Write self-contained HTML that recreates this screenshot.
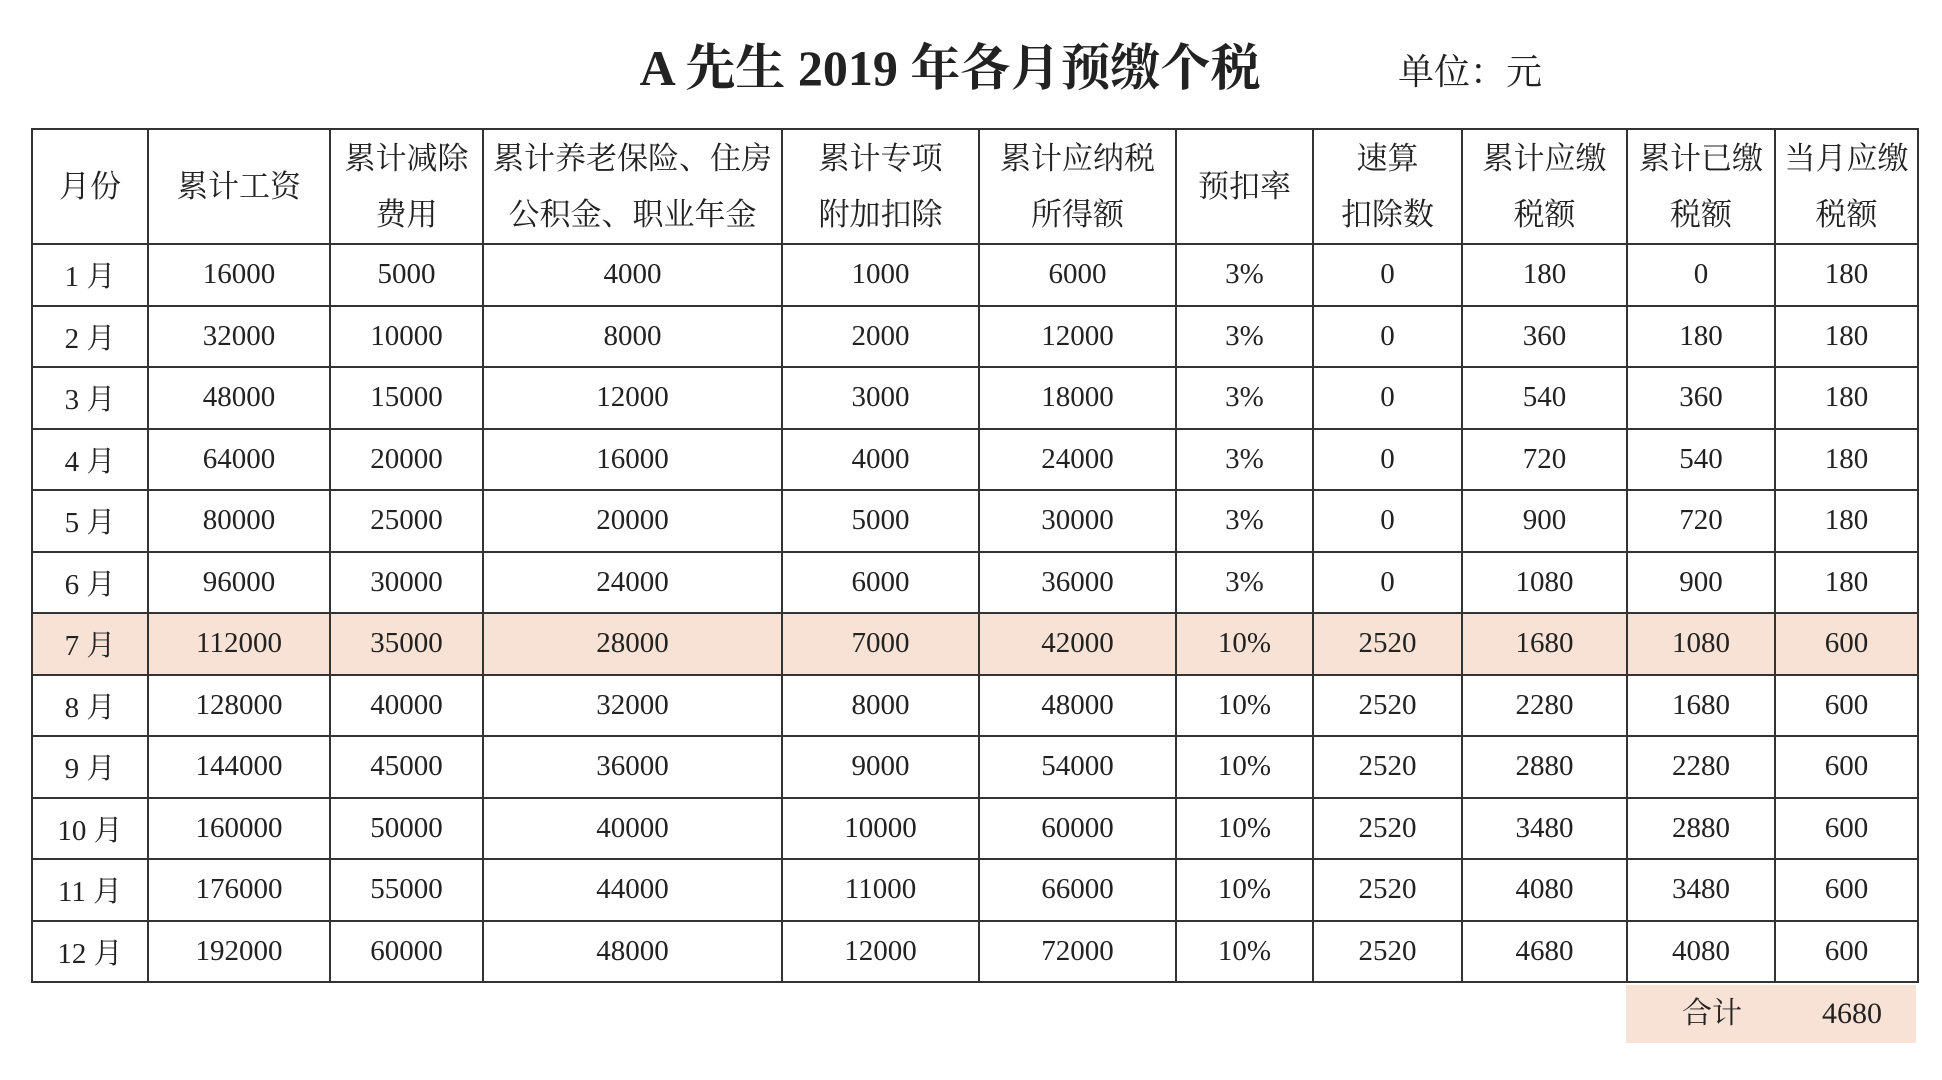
<!DOCTYPE html>
<html><head><meta charset="utf-8"><style>
body{margin:0;width:1942px;height:1080px;background:#fff;position:relative;overflow:hidden;font-family:"Liberation Serif","Noto Serif CJK SC",serif;color:#222}
#title{position:absolute;left:620px;top:36px;width:660px;text-align:center;font-size:50px;font-weight:bold;line-height:64px}
#unit{position:absolute;left:1398px;top:48px;font-size:36px;line-height:48px}
table{position:absolute;left:31px;top:128px;border-collapse:collapse;table-layout:fixed;width:1886px}
td,th{border:2px solid #333;text-align:center;font-weight:normal;padding:0;white-space:nowrap;overflow:hidden}
th{height:113px;font-size:31px;line-height:56px}
td{height:59.5px;font-size:29px}
tr.hl td{background:#f8e2d6}
#total{position:absolute;left:1626px;top:985px;width:290px;height:58px;background:#f8e2d6;font-size:30px;line-height:58px}
#total span{position:absolute;top:0}
</style></head><body>
<div id="title">A 先生 2019 年各月预缴个税</div>
<div id="unit">单位：元</div>
<table>
<colgroup><col style="width:116px"><col style="width:182px"><col style="width:153px"><col style="width:299px"><col style="width:197px"><col style="width:197px"><col style="width:137px"><col style="width:149px"><col style="width:165px"><col style="width:148px"><col style="width:143px"></colgroup>
<thead><tr>
<th>月份</th>
<th>累计工资</th>
<th>累计减除<br>费用</th>
<th>累计养老保险、住房<br>公积金、职业年金</th>
<th>累计专项<br>附加扣除</th>
<th>累计应纳税<br>所得额</th>
<th>预扣率</th>
<th>速算<br>扣除数</th>
<th>累计应缴<br>税额</th>
<th>累计已缴<br>税额</th>
<th>当月应缴<br>税额</th>
</tr></thead>
<tbody id="tb"></tbody>
</table>
<div id="total"><span style="left:56px">合计</span><span style="left:196px">4680</span></div>
<script>
const months=["1 月","2 月","3 月","4 月","5 月","6 月","7 月","8 月","9 月","10 月","11 月","12 月"];
const salary=[16000,32000,48000,64000,80000,96000,112000,128000,144000,160000,176000,192000];
const deduction=[5000,10000,15000,20000,25000,30000,35000,40000,45000,50000,55000,60000];
const insurance=[4000,8000,12000,16000,20000,24000,28000,32000,36000,40000,44000,48000];
const special=[1000,2000,3000,4000,5000,6000,7000,8000,9000,10000,11000,12000];
const taxable=[6000,12000,18000,24000,30000,36000,42000,48000,54000,60000,66000,72000];
const rate=["3%","3%","3%","3%","3%","3%","10%","10%","10%","10%","10%","10%"];
const quick=[0,0,0,0,0,0,2520,2520,2520,2520,2520,2520];
const taxDue=[180,360,540,720,900,1080,1680,2280,2880,3480,4080,4680];
const taxPaid=[0,180,360,540,720,900,1080,1680,2280,2880,3480,4080];
const monthTax=[180,180,180,180,180,180,600,600,600,600,600,600];
const cols=[months,salary,deduction,insurance,special,taxable,rate,quick,taxDue,taxPaid,monthTax];
const tb=document.getElementById('tb');
for(let i=0;i<months.length;i++){
  const tr=document.createElement('tr');
  
  
  if(i===6)tr.className='hl';
  cols.forEach((c,j)=>{
    const td=document.createElement('td');
    
    
    td.textContent=c[i];
    tr.appendChild(td);
  });
  tb.appendChild(tr);
}
</script>
</body></html>
